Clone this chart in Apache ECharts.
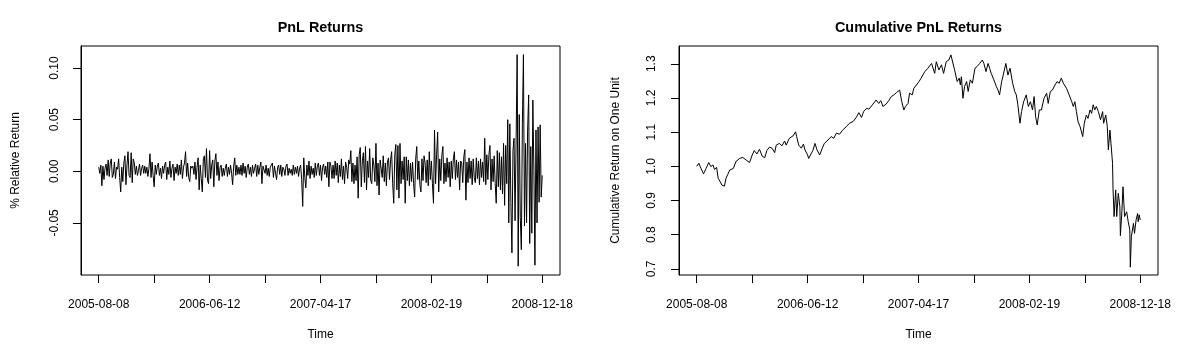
<!DOCTYPE html>
<html>
<head>
<meta charset="utf-8">
<script src="https://cdn.jsdelivr.net/npm/echarts@6/dist/echarts.min.js"></script>
<style>
  body { margin: 0; background: #fff; }
  #chart { width: 1200px; height: 357px; }
</style>
</head>
<body>
<div id="chart"></div>
<script>
// daily pnl returns, one reading every 2 trading days (day 0 = 2005-08-08)
const retStep = 2
const retValues = [
  0.004, -0.002, 0.006, -0.014, 0.005, -0.008, 0.003, 0.007, -0.004, 0.011, -0.005, 0.008, 0.012, -0.006, -0.003,
  0.009, -0.007, 0.004, 0.002, 0.012, -0.006, -0.020, 0.004, -0.010, 0.008, 0.015, -0.013, 0.006, 0.019, -0.004,
  -0.006, 0.018, -0.011, 0.012, 0.008, -0.003, 0.005, -0.004, 0.001, 0.007, -0.004, 0.003, 0.006, -0.002, 0.005,
  -0.002, 0.004, -0.005, 0.003, 0.017, -0.006, 0.009, -0.004, -0.015, 0.006, -0.003, 0.005, 0.008, -0.004, 0.003,
  -0.007, 0.005, -0.002, 0.006, 0.009, -0.008, 0.004, -0.003, 0.010, -0.006, 0.003, 0.007, -0.009, 0.004, -0.002,
  0.007, -0.004, 0.006, -0.003, 0.011, -0.007, 0.004, 0.008, 0.019, -0.005, 0.008, -0.006, -0.010, 0.005, 0.003,
  0.005, -0.003, 0.009, -0.008, 0.004, 0.013, -0.018, 0.006, -0.007, -0.020, 0.012, 0.015, -0.006, 0.022, -0.009,
  -0.012, 0.020, -0.007, 0.006, 0.011, -0.015, 0.010, 0.017, -0.004, 0.009, -0.009, 0.004, 0.006, -0.005, 0.003,
  -0.004, 0.003, 0.007, -0.005, 0.004, -0.003, 0.006, -0.002, -0.013, 0.005, 0.013, -0.004, 0.006, -0.003, 0.004,
  -0.003, 0.006, -0.004, 0.008, -0.002, 0.005, -0.006, 0.004, 0.007, -0.003, 0.004, -0.005, 0.006, -0.002, 0.003,
  0.007, -0.005, 0.006, -0.003, 0.004, 0.009, -0.012, 0.005, 0.004, -0.002, 0.006, -0.004, 0.003, -0.005, 0.004,
  0.003, 0.008, -0.006, 0.005, -0.002, -0.008, 0.004, 0.006, -0.003, 0.006, -0.005, 0.004, 0.002, -0.004, 0.005,
  0.007, -0.004, 0.003, -0.002, 0.002, -0.004, 0.006, -0.003, 0.004, -0.002, 0.005, -0.005, 0.003, 0.006, -0.008,
  -0.034, 0.013, -0.006, -0.016, 0.006, -0.004, 0.010, -0.007, 0.005, -0.003, 0.003, -0.006, 0.008, -0.004, 0.005,
  0.008, -0.004, 0.006, -0.009, 0.004, 0.007, -0.003, 0.005, -0.006, 0.009, -0.015, 0.009, 0.005, -0.007, 0.006,
  -0.007, 0.010, -0.004, 0.008, -0.011, 0.006, -0.005, 0.012, -0.008, 0.005, -0.012, 0.009, 0.004, -0.007, 0.011,
  0.007, 0.020, -0.010, 0.008, -0.012, 0.006, -0.009, 0.014, -0.026, 0.016, 0.023, -0.015, 0.010, 0.018, -0.011,
  0.024, -0.018, 0.010, -0.006, 0.022, -0.009, -0.012, 0.013, 0.006, -0.010, 0.027, -0.014, 0.008, -0.023, 0.011,
  0.012, -0.006, 0.015, -0.010, 0.008, -0.014, 0.009, 0.013, -0.008, 0.011, 0.019, -0.012, -0.031, 0.016, 0.026,
  -0.018, 0.025, -0.026, 0.027, -0.012, 0.010, -0.008, 0.014, -0.031, 0.014, -0.009, 0.011, -0.014, 0.008, -0.010,
  0.009, -0.012, -0.025, 0.012, 0.024, -0.008, 0.010, -0.013, -0.020, 0.012, -0.009, 0.015, 0.008, -0.011, 0.011,
  -0.014, 0.019, -0.008, 0.010, -0.012, -0.031, 0.040, -0.012, 0.016, 0.038, -0.020, 0.012, -0.009, 0.015, 0.024,
  -0.012, 0.008, -0.010, 0.013, -0.006, 0.009, -0.015, 0.010, -0.007, 0.012, 0.019, -0.008, 0.011, -0.006, 0.009,
  -0.018, 0.010, 0.008, -0.011, 0.014, 0.021, -0.028, 0.009, -0.011, 0.013, -0.007, 0.010, -0.013, 0.012, -0.006,
  -0.011, 0.013, -0.007, 0.010, -0.013, 0.012, -0.006, 0.009, -0.010, 0.032, -0.013, 0.016, -0.008, 0.016, 0.025,
  -0.018, 0.012, -0.010, 0.015, -0.012, -0.031, 0.020, -0.015, 0.018, -0.018, 0.014, -0.022, 0.027, -0.033, 0.025,
  -0.012, 0.050, -0.050, 0.046, -0.030, -0.079, 0.020, 0.032, -0.048, 0.030, 0.113, -0.092, 0.055, -0.045, -0.076,
  0.046, 0.113, -0.053, 0.027, -0.050, 0.040, 0.074, -0.070, 0.024, -0.060, 0.069, 0.001, -0.091, 0.040, -0.050,
  0.043, -0.030, 0.045, -0.025, -0.004
]

// cumulative return on one unit, read at these trading days
const cumDays = [
  0, 4, 8, 13, 18, 23, 27, 31, 34, 38, 41, 45, 48, 51, 53, 56, 59, 63, 70, 75,
  82, 88, 94, 101, 106, 110, 115, 120, 125, 130, 134, 139, 144, 149, 152, 158, 163, 168, 171, 177,
  184, 189, 191, 195, 200, 204, 207, 212, 214, 219, 222, 226, 230, 235, 240, 244, 251, 257, 262, 267,
  273, 279, 286, 292, 299, 305, 310, 315, 319, 325, 329, 337, 343, 348, 352, 356, 362, 367, 372, 377,
  382, 388, 389, 392, 396, 399, 404, 407, 412, 415, 420, 425, 429, 436, 442, 449, 455, 458, 463, 468,
  472, 477, 482, 486, 489, 493, 498, 502, 504, 506, 509, 512, 516, 519, 523, 527, 532, 536, 541, 546,
  549, 553, 557, 560, 563, 568, 573, 576, 579, 583, 586, 591, 595, 599, 604, 608, 611, 614, 618, 621,
  625, 630, 634, 638, 642, 645, 648, 651, 655, 659, 664, 669, 672, 676, 680, 685, 689, 693, 697, 701,
  704, 707, 712, 717, 720, 723, 726, 729, 733, 736, 738, 741, 745, 748, 752, 755, 758, 761, 764, 768,
  772, 776, 778, 782, 785, 787, 790, 792, 795, 796, 798, 801, 803, 806, 809, 810, 813, 815, 818, 822,
  825, 828, 829, 831, 835, 837, 840, 843, 844, 846, 848
]
const cumValues = [
  1.000, 1.009, 0.994, 0.978, 0.994, 1.011, 0.999, 1.004, 0.991, 0.997, 0.965, 0.955, 0.945, 0.950, 0.942, 0.965, 0.975, 0.989, 0.994, 1.014,
  1.023, 1.026, 1.019, 1.011, 1.033, 1.046, 1.036, 1.050, 1.030, 1.025, 1.046, 1.056, 1.053, 1.040, 1.062, 1.067, 1.060, 1.074, 1.062, 1.082,
  1.089, 1.101, 1.087, 1.062, 1.053, 1.065, 1.048, 1.033, 1.023, 1.038, 1.046, 1.067, 1.048, 1.033, 1.053, 1.067, 1.077, 1.087, 1.082, 1.097,
  1.094, 1.106, 1.116, 1.126, 1.131, 1.143, 1.157, 1.143, 1.160, 1.170, 1.167, 1.182, 1.194, 1.184, 1.192, 1.175, 1.182, 1.192, 1.204, 1.209,
  1.216, 1.223, 1.225, 1.189, 1.165, 1.175, 1.184, 1.214, 1.209, 1.228, 1.238, 1.248, 1.258, 1.277, 1.287, 1.301, 1.272, 1.306, 1.282, 1.297,
  1.272, 1.306, 1.311, 1.326, 1.321, 1.282, 1.248, 1.258, 1.238, 1.262, 1.199, 1.233, 1.248, 1.219, 1.253, 1.243, 1.287, 1.292, 1.301, 1.311,
  1.301, 1.277, 1.301, 1.287, 1.272, 1.253, 1.233, 1.223, 1.209, 1.248, 1.267, 1.301, 1.267, 1.287, 1.243, 1.219, 1.209, 1.180, 1.126, 1.160,
  1.189, 1.209, 1.175, 1.189, 1.165, 1.204, 1.145, 1.121, 1.165, 1.165, 1.199, 1.214, 1.184, 1.219, 1.223, 1.238, 1.248, 1.243, 1.258, 1.243,
  1.248, 1.228, 1.209, 1.189, 1.175, 1.189, 1.160, 1.131, 1.116, 1.121, 1.087, 1.126, 1.150, 1.140, 1.165, 1.155, 1.180, 1.165, 1.175, 1.160,
  1.136, 1.160, 1.126, 1.150, 1.116, 1.048, 1.106, 1.067, 1.009, 0.931, 0.853, 0.931, 0.853, 0.921, 0.882, 0.797, 0.872, 0.940, 0.853, 0.867,
  0.838, 0.814, 0.705, 0.794, 0.833, 0.804, 0.843, 0.862, 0.838, 0.858, 0.843
]

const tickDays = [0, 106, 212, 318, 424, 530, 636, 742, 848]
const labelDays = [0, 212, 424, 636, 848]
const tickLabels = ['2005-08-08', '2006-06-12', '2007-04-17', '2008-02-19', '2008-12-18']
const retTicks = [-0.05, 0, 0.05, 0.10]
const cumTicks = [0.7, 0.8, 0.9, 1.0, 1.1, 1.2, 1.3]

const font = "'Liberation Sans', Arial, sans-serif"
const black = '#000'
const xMin = -33.92
const xMax = 881.92

function xAxisFor(gridIndex) {
  return {
    type: 'value',
    gridIndex: gridIndex,
    min: xMin,
    max: xMax,
    name: 'Time',
    nameLocation: 'middle',
    nameGap: 54,
    nameMoveOverlap: false,
    nameTextStyle: {color: black, fontSize: 12, fontFamily: font},
    axisLine: {show: false, onZero: false},
    splitLine: {show: false},
    axisTick: {show: true, length: 8, lineStyle: {color: black, width: 1}, customValues: tickDays},
    axisLabel: {
      color: black, fontSize: 12, fontFamily: font, margin: 24,
      customValues: labelDays,
      formatter: function (v) {
        return tickLabels[labelDays.indexOf(Math.round(v))] || ''
      }
    }
  }
}

// hidden x axis for the overlay grids that only carry the y tick marks
function xHiddenAxis(gridIndex) {
  return {type: 'value', gridIndex: gridIndex, min: xMin, max: xMax, show: false}
}

// y axis with the rotated labels and the name (echarts drops its ticks)
function yLabelAxis(gridIndex, o) {
  return {
    type: 'value', gridIndex: gridIndex, position: 'left', min: o.min, max: o.max,
    name: o.name, nameLocation: 'middle', nameGap: o.nameGap, nameRotate: 90, nameMoveOverlap: false,
    nameTextStyle: {color: black, fontSize: 12, fontFamily: font},
    axisLine: {show: false, onZero: false},
    splitLine: {show: false},
    axisTick: {show: false},
    axisLabel: {
      color: black, fontSize: 12, fontFamily: font, rotate: 90, margin: o.margin,
      customValues: o.ticks,
      formatter: function (v) { return v.toFixed(o.digits) }
    }
  }
}

// same scale in an overlay grid: upright (invisible) labels, so the tick marks are kept
function yTickAxis(gridIndex, o) {
  return {
    type: 'value', gridIndex: gridIndex, position: 'left', min: o.min, max: o.max,
    axisLine: {show: true, onZero: false, lineStyle: {color: black, width: 1}},
    splitLine: {show: false},
    axisTick: {show: true, length: 8, lineStyle: {color: black, width: 1}, customValues: o.ticks},
    axisLabel: {
      show: true, color: 'rgba(0,0,0,0)',
      customValues: o.ticks,
      formatter: function (v) { return v.toFixed(o.digits) }
    }
  }
}

const retAxis = {min: -0.1005, max: 0.1214, name: '% Relative Return', nameGap: 59, ticks: retTicks, margin: 20, digits: 2}
const cumAxis = {min: 0.682, max: 1.352, name: 'Cumulative Return on One Unit', nameGap: 57, ticks: cumTicks, margin: 21, digits: 1}

const retData = retValues.map(function (v, i) { return [i * retStep, v] })
const cumData = cumValues.map(function (v, i) { return [cumDays[i], v] })

function lineSeries(axisIndex, data, visible) {
  return {
    type: 'line', xAxisIndex: axisIndex, yAxisIndex: axisIndex, showSymbol: false, silent: !visible,
    lineStyle: {color: black, width: 1, opacity: visible ? 1 : 0},
    data: data
  }
}

const leftBox = {left: 81, top: 46, width: 479, height: 229}
const rightBox = {left: 679, top: 46, width: 479, height: 229}
const boxStyle = {show: true, borderColor: black, borderWidth: 1, backgroundColor: 'transparent'}

const chart = echarts.init(document.getElementById('chart'), null, {renderer: 'canvas'})

const option = {
  backgroundColor: '#fff',
  animation: false,
  title: [
    {
      text: 'PnL Returns', left: 320.5, top: 21, textAlign: 'center', padding: 0,
      textStyle: {fontSize: 14.4, fontWeight: 'bold', color: black, fontFamily: font}
    },
    {
      text: 'Cumulative PnL Returns', left: 918.5, top: 21, textAlign: 'center', padding: 0,
      textStyle: {fontSize: 14.4, fontWeight: 'bold', color: black, fontFamily: font}
    }
  ],
  grid: [
    Object.assign({}, leftBox, boxStyle),
    Object.assign({}, rightBox, boxStyle),
    Object.assign({show: false}, leftBox),
    Object.assign({show: false}, rightBox)
  ],
  xAxis: [xAxisFor(0), xAxisFor(1), xHiddenAxis(2), xHiddenAxis(3)],
  yAxis: [yLabelAxis(0, retAxis), yLabelAxis(1, cumAxis), yTickAxis(2, retAxis), yTickAxis(3, cumAxis)],
  series: [
    lineSeries(0, retData, true),
    lineSeries(1, cumData, true),
    lineSeries(2, retData, false),
    lineSeries(3, cumData, false)
  ]
}

chart.setOption(option)
</script>
</body>
</html>
